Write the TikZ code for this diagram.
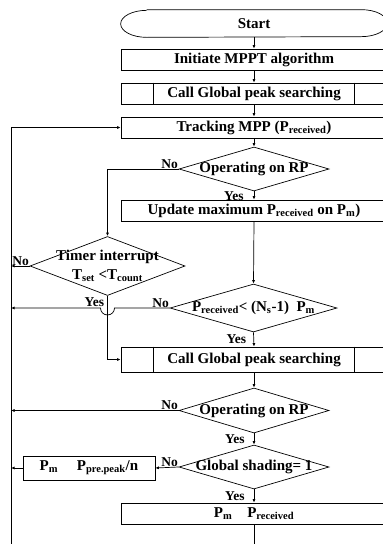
\documentclass[tikz,border=0pt]{standalone}
\usepackage{fontspec}
\setmainfont{Liberation Serif}
\usetikzlibrary{shapes.geometric, arrows.meta}

\begin{document}
\begin{tikzpicture}[x=1pt, y=1pt, line width=.7pt, >={Latex[length=3.5pt,width=3pt]},
    font=\fontsize{15}{19}\selectfont\bfseries,
    box/.style={draw, minimum width=266pt, minimum height=21pt, inner sep=0pt},
    dec/.style={draw, diamond, inner sep=0pt, minimum width=150pt, minimum height=44pt},
    no/.style={anchor=south east, inner sep=.5pt, font=\fontsize{13.5}{15}\selectfont\bfseries},
    yes/.style={anchor=north east, inner sep=0pt, font=\fontsize{13.5}{15}\selectfont\bfseries}]
\useasboundingbox (0,0) rectangle (383,-544);
\node[minimum width=266pt, minimum height=27pt, inner sep=0pt] (st) at (254,-23.5) {Start};
\draw ([xshift=26pt]st.north west) -- ([xshift=-26pt]st.north east) arc[start angle=90, end angle=-90, x radius=26pt, y radius=13.5pt] -- ([xshift=26pt]st.south west) arc[start angle=270, end angle=90, x radius=26pt, y radius=13.5pt];
\node[box] (init) at (254,-59.5) {Initiate MPPT algorithm};
\node[box] (cg1) at (254,-93.5) {Call Global peak searching};
\node[box] (track) at (254,-127.5) {Tracking MPP (P\textsubscript{received})};
\node[dec] (rp1) at (254,-169) {};
\node (rp1t) at (rp1) {Operating on RP};
\node[box] (upd) at (254,-210.5) {Update maximum P\textsubscript{received} on P\textsubscript{m})};
\node[dec, minimum width=155pt, minimum height=59pt] (tmr) at (107.5,-266) {};
\node[align=center] (tmrt) at (tmr) {Timer interrupt\\T\textsubscript{set} <T\textsubscript{count}};
\node[dec, minimum width=167pt, minimum height=48pt] (cmp) at (253.5,-308) {};
\node (cmpt) at (cmp) {P\textsubscript{received}< (N\textsubscript{s}-1)\ \ P\textsubscript{m}};
\node[box, minimum height=25pt] (cg2) at (254,-359.5) {Call Global peak searching};
\node[dec, minimum height=45pt] (rp2) at (254,-410.5) {};
\node (rp2t) at (rp2) {Operating on RP};
\node[dec] (gs) at (254,-467) {};
\node (gst) at (gs) {Global shading= 1};
\node[box, minimum width=132pt, minimum height=24pt] (pm) at (89,-468) {P\textsubscript{m}\quad\ P\textsubscript{pre.peak}/n};
\node[box] (pmr) at (254,-513.5) {P\textsubscript{m}\quad P\textsubscript{received}};
\coordinate (fb) at (11,-544);
\coordinate (end) at (254,-544);
\foreach \n in {cg1,cg2}
  \draw ([xshift=33pt]\n.north west) -- ([xshift=33pt]\n.south west) ([xshift=-33pt]\n.north east) -- ([xshift=-33pt]\n.south east);

\draw[->] (st.south) -- (init.north);
\draw[->] (init.south) -- (cg1.north);
\draw[->] (cg1.south) -- (track.north);
\draw[->] (track.south) -- (rp1.north);
\draw[->] (rp1.south) -- (upd.north);
\draw[->] (upd.south) -- (cmp.north);
\draw[->] (rp1.west) -| (tmr.north);
\draw[->] (tmr.west) -- (fb |- tmr.west);
\draw[->] (tmr.south) |- (cg2.west);
\draw[->] (cmp.west) -- ([xshift=7pt]tmr.south |- cmp.west) arc[start angle=0, end angle=-180, radius=7pt] -- (fb |- cmp.west);
\draw[->] (cmp.south) -- (cg2.north);
\draw[->] (cg2.south) -- (rp2.north);
\draw[->] (rp2.west) -- (fb |- rp2.west);
\draw[->] (rp2.south) -- (gs.north);
\draw[->] (gs.west) -- (pm.east);
\draw[->] (pm.west) -- (fb |- pm.west);
\draw[->] (gs.south) -- (pmr.north);
\draw (pmr.south) -- (end);
\draw[->] (fb) |- (track.west);

\node[no] (no1) at (rp1.west) {No};
\node[no] (no2) at (tmr.west) {No};
\node[no] (no3) at (cmp.west) {No};
\node[no] (no4) at (rp2.west) {No};
\node[no] (no5) at (gs.west) {No};
\node[yes] (yes1) at ([xshift=-10pt,yshift=-.3pt]rp1.south) {Yes};
\node[yes] (yes2) at ([xshift=-3pt,yshift=-1.5pt]tmr.south) {Yes};
\node[yes] (yes3) at ([xshift=-7pt,yshift=-2pt]cmp.south) {Yes};
\node[yes] (yes4) at ([xshift=-9pt,yshift=-1pt]rp2.south) {Yes};
\node[yes] (yes5) at ([xshift=-9pt,yshift=-1.5pt]gs.south) {Yes};
\end{tikzpicture}
\end{document}
